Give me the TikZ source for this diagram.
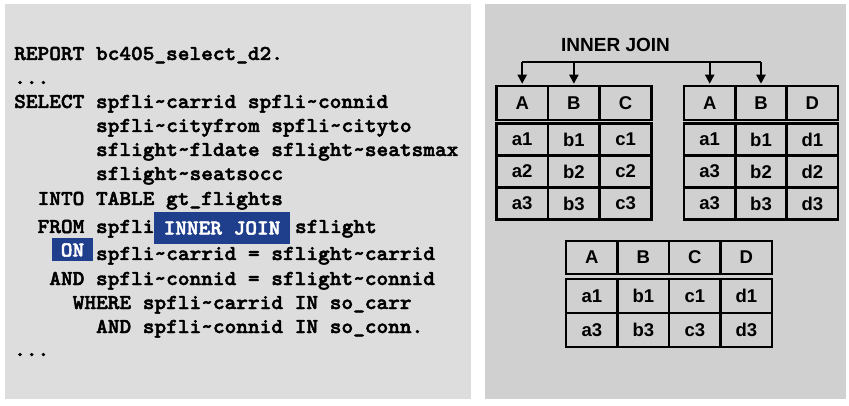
\documentclass[tikz,border=0pt]{standalone}
\usepackage{fontspec}
\setmainfont{Liberation Sans}
\newfontfamily\codefont{lmmonolt10-bold.otf}[FakeStretch=1.05, FakeBold=2.2]
\usetikzlibrary{arrows.meta}

\definecolor{leftgray}{RGB}{221,221,221}
\definecolor{rightgray}{RGB}{208,208,208}
\definecolor{joinblue}{RGB}{31,62,140}
\newcommand{\tld}{\textasciitilde}

\tikzset{
  code/.style={anchor=base west, inner sep=0pt, font=\codefont\fontsize{21.2}{24}\selectfont},
  keybox/.style={fill=joinblue, text=white, inner sep=0pt, font=\codefont\fontsize{21.2}{24}\selectfont},
  cell/.style={draw, line width=2.5pt, minimum width=51.5pt, minimum height=32pt, inner sep=0pt, font=\bfseries\fontsize{18.5}{20}\selectfont},
  feed/.style={line width=2pt, -{Triangle[length=9pt,width=9pt]}, shorten >=1pt},
}

\begin{document}
\begin{tikzpicture}[x=1pt, y=-1pt]
  \useasboundingbox (0,0) rectangle (849,406);
  \fill[leftgray] (5,4) rectangle (471,399);
  \fill[rightgray] (485,4) rectangle (846,399);

  % program text
  \node[code] (l1) at (14,60) {REPORT bc405\_select\_d2.};
  \node[code] (l2) at (14,84) {...};
  \node[code] (l3) at (14,108) {SELECT spfli\tld carrid spfli\tld connid};
  \node[code] (l4) at (95.9,132) {spfli\tld cityfrom spfli\tld cityto};
  \node[code] (l5) at (95.9,156) {sflight\tld fldate sflight\tld seatsmax};
  \node[code] (l6) at (95.9,180) {sflight\tld seatsocc};
  \node[code] (l7) at (37.4,205) {INTO TABLE gt\_flights};
  \node[code] (l8) at (37.4,233) {FROM spfli};
  \node[keybox, minimum width=136pt, minimum height=32pt] (innerjoin) at (222,228) {INNER JOIN};
  \node[code] (l8b) at (294.8,233) {sflight};
  \node[keybox, minimum width=41pt, minimum height=23pt] (on) at (72.5,250) {ON};
  \node[code] (l9) at (95.9,260) {spfli\tld carrid = sflight\tld carrid};
  \node[code] (l10) at (49.1,285) {AND spfli\tld connid = sflight\tld connid};
  \node[code] (l11) at (72.5,309) {WHERE spfli\tld carrid IN so\_carr};
  \node[code] (l12) at (95.9,333) {AND spfli\tld connid IN so\_conn.};
  \node[code] (l13) at (14,356) {...};

  % join title
  \node[font=\bfseries\fontsize{19}{21}\selectfont] (jointitle) at (615.5,45) {INNER JOIN};

  % first table
  \foreach \val [count=\c] in {A,B,C}
    \node[cell, minimum height=34pt] (t1-h\c) at ({470.5+51.7*\c},103) {\val};
  \foreach \row [count=\r] in {{a1,b1,c1},{a2,b2,c2},{a3,b3,c3}}
    \foreach \val [count=\c] in \row
      \node[cell] (t1-\r-\c) at ({470.5+51.7*\c},{107.5+32*\r}) {\val};

  % second table
  \foreach \val [count=\c] in {A,B,D}
    \node[cell, minimum height=34pt] (t2-h\c) at ({658.4+51.3*\c},103) {\val};
  \foreach \row [count=\r] in {{a1,b1,d1},{a3,b2,d2},{a3,b3,d3}}
    \foreach \val [count=\c] in \row
      \node[cell] (t2-\r-\c) at ({658.4+51.3*\c},{107.5+32*\r}) {\val};

  % result table
  \foreach \val [count=\c] in {A,B,C,D}
    \node[cell, minimum height=33pt] (t3-h\c) at ({540.3+51.5*\c},257.5) {\val};
  \foreach \row [count=\r] in {{a1,b1,c1,d1},{a3,b3,c3,d3}}
    \foreach \val [count=\c] in \row
      \node[cell, minimum height=34pt] (t3-\r-\c) at ({540.3+51.5*\c},{262+34*\r}) {\val};

  % join columns
  \coordinate (bus) at (0,62);
  \draw[line width=2pt] (t1-h1.north |- bus) -- (t2-h2.north |- bus);
  \foreach \c in {t1-h1,t1-h2,t2-h1,t2-h2}
    \draw[feed] (\c.north |- bus) -- (\c.north);
\end{tikzpicture}
\end{document}
